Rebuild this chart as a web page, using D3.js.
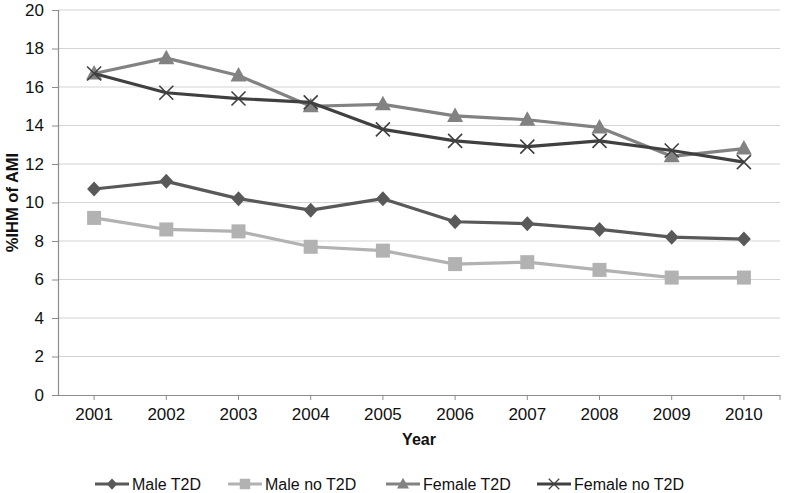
<!DOCTYPE html>
<html><head><meta charset="utf-8">
<script src="https://cdn.jsdelivr.net/npm/d3@7"></script>
<style>body{margin:0;background:#fff}svg{display:block;font-family:"Liberation Sans",Arial,sans-serif}</style>
</head><body><svg id="c" width="786" height="493"></svg>
<script>
const years = ["2001","2002","2003","2004","2005","2006","2007","2008","2009","2010"];
const maleT2D = [10.7,11.1,10.2,9.6,10.2,9.0,8.9,8.6,8.2,8.1];
const maleNoT2D = [9.2,8.6,8.5,7.7,7.5,6.8,6.9,6.5,6.1,6.1];
const femaleT2D = [16.7,17.5,16.6,15.0,15.1,14.5,14.3,13.9,12.4,12.8];
const femaleNoT2D = [16.7,15.7,15.4,15.2,13.8,13.2,12.9,13.2,12.7,12.1];
const yTicks = [0,2,4,6,8,10,12,14,16,18,20];
const seriesNames = ["Male T2D","Male no T2D","Female T2D","Female no T2D"];

const series = [
  {name:seriesNames[0], values:maleT2D, color:"#595959", marker:"diamond"},
  {name:seriesNames[1], values:maleNoT2D, color:"#b2b2b2", marker:"square"},
  {name:seriesNames[2], values:femaleT2D, color:"#828282", marker:"triangle"},
  {name:seriesNames[3], values:femaleNoT2D, color:"#404040", marker:"x"}
];

const svg = d3.select("#c");
const L=58, R=780, T=10, B=395;
const FF = "'Liberation Sans', Arial, sans-serif";
const x = d3.scaleBand().domain(years).range([L,R]);
const y = d3.scaleLinear().domain([0,20]).range([B,T]);

// gridlines
svg.append("g").selectAll("line").data(yTicks.filter(d=>d>0)).join("line")
  .attr("x1",L).attr("x2",R).attr("y1",d=>y(d)).attr("y2",d=>y(d))
  .attr("stroke","#d4d4d4").attr("stroke-width",1.2);

// y axis
const ya = svg.append("g").attr("transform",`translate(${L},0)`)
  .call(d3.axisLeft(y).tickValues(yTicks).tickSize(6).tickPadding(8));
ya.attr("font-family",FF);
ya.select(".domain").attr("stroke","#8c8c8c").attr("stroke-width",1.2);
ya.selectAll(".tick line").attr("stroke","#8c8c8c");
ya.selectAll("text").attr("font-size",17).attr("fill","#111");

// x axis
const xa = svg.append("g").attr("transform",`translate(0,${B})`)
  .call(d3.axisBottom(x).tickSize(5).tickPadding(8).tickSizeOuter(0));
xa.attr("font-family",FF);
xa.select(".domain").attr("stroke","#8c8c8c").attr("stroke-width",1.2);
xa.selectAll(".tick line").attr("stroke","#8c8c8c");
xa.selectAll("text").attr("font-size",17).attr("fill","#111");
xa.append("line").attr("x1",R).attr("x2",R).attr("y1",0).attr("y2",5).attr("stroke","#8c8c8c");

// axis titles
svg.append("text").attr("x",(L+R)/2).attr("y",445).attr("text-anchor","middle")
  .attr("font-size",16).attr("font-weight","bold").attr("fill","#111").text("Year");
svg.append("text").attr("transform",`translate(18,${(T+B)/2}) rotate(-90)`).attr("text-anchor","middle")
  .attr("font-size",16.5).attr("font-weight","bold").attr("fill","#111").text("%IHM of AMI");

function drawMarker(g, type, color, cx, cy){
  if(type==="diamond"){
    g.append("path").attr("d",`M${cx},${cy-7.5}L${cx+7},${cy}L${cx},${cy+7.5}L${cx-7},${cy}Z`).attr("fill",color);
  } else if(type==="square"){
    g.append("rect").attr("x",cx-7).attr("y",cy-7).attr("width",14).attr("height",14).attr("fill",color);
  } else if(type==="triangle"){
    g.append("path").attr("d",`M${cx},${cy-8.5}L${cx+8},${cy+6}L${cx-8},${cy+6}Z`).attr("fill",color);
  } else {
    g.append("path").attr("d",`M${cx-7},${cy-7}L${cx+7},${cy+7}M${cx+7},${cy-7}L${cx-7},${cy+7}`)
      .attr("stroke",color).attr("stroke-width",1.6).attr("fill","none");
  }
}

const line = d3.line().x((d,i)=>x(years[i])+x.bandwidth()/2).y(d=>y(d));
series.forEach(s=>{
  const g = svg.append("g");
  g.append("path").datum(s.values).attr("d",line).attr("fill","none")
    .attr("stroke",s.color).attr("stroke-width",3.2).attr("stroke-linejoin","round");
  s.values.forEach((v,i)=>drawMarker(g,s.marker,s.color,x(years[i])+x.bandwidth()/2,y(v)));
});

// legend
const legX = [95,228,386,537];
series.forEach((s,i)=>{
  const g = svg.append("g");
  const x0 = legX[i], ly=484;
  g.append("line").attr("x1",x0).attr("x2",x0+34).attr("y1",ly).attr("y2",ly)
    .attr("stroke",s.color).attr("stroke-width",3.2);
  const gm = g.append("g").attr("transform",`translate(${x0+17},${ly}) scale(0.75) translate(${-(x0+17)},${-ly})`);
  drawMarker(gm,s.marker,s.color,x0+17,ly);
  g.append("text").attr("x",x0+37).attr("y",490).attr("font-size",16).attr("fill","#111").text(s.name);
});
</script></body></html>
